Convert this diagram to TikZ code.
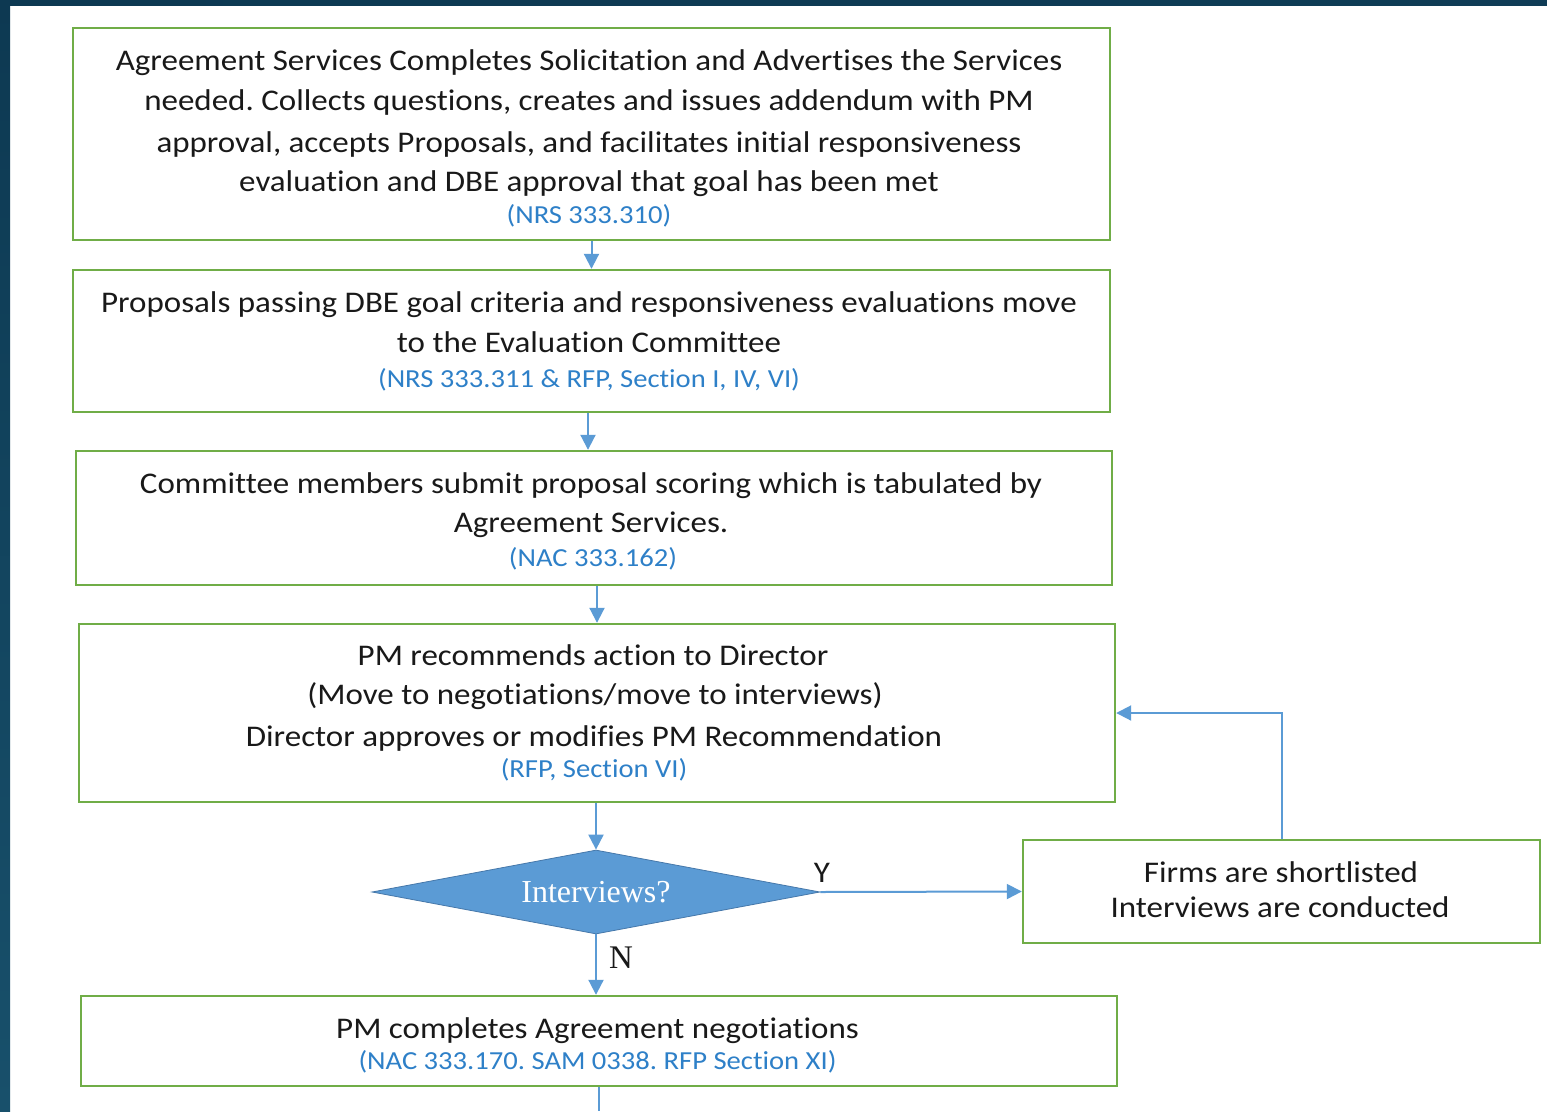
\documentclass[tikz,border=0pt]{standalone}
\usepackage{fontspec}
\setmainfont{Carlito}[FakeStretch=1.10, Ligatures=NoCommon]
\newfontfamily\serifface{Liberation Serif}
\usetikzlibrary{arrows.meta,shapes.geometric,calc}
\frenchspacing

\definecolor{boxgreen}{RGB}{112,173,71}
\definecolor{flowblue}{RGB}{91,155,213}
\definecolor{refblue}{RGB}{46,128,200}
\definecolor{edgeblue}{RGB}{70,120,170}
\definecolor{inkgray}{RGB}{25,25,25}
\definecolor{bandtop}{RGB}{13,57,82}
\definecolor{bandbot}{RGB}{24,80,107}

\begin{document}
\begin{tikzpicture}[x=1pt,y=-1pt,
  stepbox/.style={draw=boxgreen, line width=2.4pt, rectangle, inner sep=0pt},
  body/.style={font=\fontsize{30}{36}\selectfont, text=inkgray, anchor=base, inner sep=0pt},
  ref/.style={font=\fontsize{26}{30}\selectfont, text=refblue, anchor=base, inner sep=0pt},
  flow/.style={draw=flowblue, line width=2pt, -{Triangle[length=15pt,width=15pt]}},
  plainflow/.style={draw=flowblue, line width=2pt},
  decision/.style={diamond, aspect=5.33, fill=flowblue, draw=edgeblue, line width=0.8pt,
    inner sep=0pt, text=white, font=\serifface\fontsize{32}{36}\selectfont},
]
\useasboundingbox (0,0) rectangle (1547,1111);
\fill[white] (0,0) rectangle (1547,1111);

% dark frame along the top and left edges
\shade[left color=bandtop, right color=bandtop!85!bandbot] (0,0) rectangle (1547,5);
\shade[top color=bandtop, bottom color=bandbot] (0,0) rectangle (10,1111);

% process boxes
\node[stepbox, minimum width=1037pt, minimum height=212pt] (b1) at (591.5,134) {};
\node[stepbox, minimum width=1037pt, minimum height=142pt] (b2) at (591.5,341) {};
\node[stepbox, minimum width=1036pt, minimum height=134pt] (b3) at (594,518) {};
\node[stepbox, minimum width=1036pt, minimum height=178pt] (b4) at (597,713) {};
\node[stepbox, minimum width=517pt, minimum height=103pt] (f) at (1281.5,891.5) {};
\node[stepbox, minimum width=1036pt, minimum height=90pt] (b6) at (599,1041) {};
\node[decision, minimum width=448pt, minimum height=84pt] (q) at (596,892) {Interviews?};

% box texts
\node[body] (t1a) at (589,70) {Agreement Services Completes Solicitation and Advertises the Services};
\node[body] (t1b) at (589,110) {needed. Collects questions, creates and issues addendum with PM};
\node[body] (t1c) at (589,152) {approval, accepts Proposals, and facilitates initial responsiveness};
\node[body] (t1d) at (589,191) {evaluation and DBE approval that goal has been met};
\node[ref] (r1) at (589,223) {(NRS 333.310)};

\node[body] (t2a) at (589,312) {Proposals passing DBE goal criteria and responsiveness evaluations move};
\node[body] (t2b) at (589,352) {to the Evaluation Committee};
\node[ref] (r2) at (589,387) {(NRS 333.311 \& RFP, Section I, IV, VI)};

\node[body] (t3a) at (591,493) {Committee members submit proposal scoring which is tabulated by};
\node[body] (t3b) at (591,532) {Agreement Services.};
\node[ref] (r3) at (593,566) {(NAC 333.162)};

\node[body] (t4a) at (593,665) {PM recommends action to Director};
\node[body] (t4b) at (595,704) {(Move to negotiations/move to interviews)};
\node[body] (t4c) at (594,746) {Director approves or modifies PM Recommendation};
\node[ref] (r4) at (594,777) {(RFP, Section VI)};

\node[body] (t5a) at (1281,882) {Firms are shortlisted};
\node[body] (t5b) at (1280,917) {Interviews are conducted};

\node[body] (t6a) at (597.5,1038) {PM completes Agreement negotiations};
\node[ref] (r6) at (597.5,1069) {(NAC 333.170. SAM 0338. RFP Section XI)};

% connectors
\coordinate (a2) at ([xshift=-3.5pt]b2.south);
\coordinate (tail) at (599,1111);
\draw[flow] (b1.south) -- (b2.north);
\draw[flow] (a2) -- (a2 |- b3.north);
\draw[flow] (b4.north |- b3.south) -- (b4.north);
\draw[flow] (q.north |- b4.south) -- (q.north);
\draw[flow] (q.south) -- (q.south |- b6.north);
\draw[flow] (q.east) -- (f.west);
\draw[flow] (f.north) |- (b4.east);
\draw[plainflow] (b6.south) -- (tail);

% branch labels
\node[font=\fontsize{30}{36}\selectfont, text=inkgray, inner sep=0pt] (ylab) at (822,873) {Y};
\node[font=\serifface\fontsize{33}{36}\selectfont, text=inkgray, inner sep=0pt] (nlab) at (621,958) {N};
\end{tikzpicture}
\end{document}
